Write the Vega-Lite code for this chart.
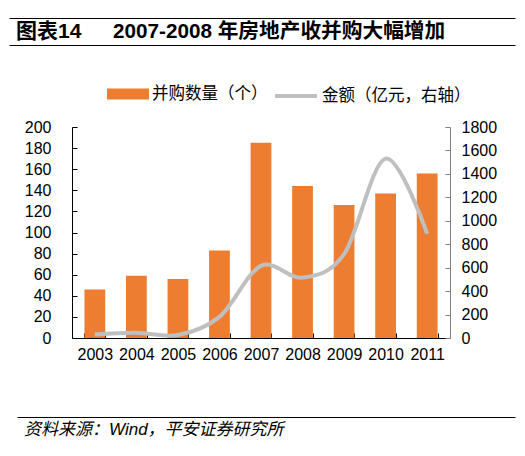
{
  "$schema": "https://vega.github.io/schema/vega-lite/v6.json",
  "padding": {"left": 16, "top": 18, "right": 0, "bottom": 0},
  "spacing": 28,
  "config": {"view": {"stroke": null}, "font": "Liberation Sans", "background": "#ffffff"},
  "resolve": {"scale": {"x": "independent", "y": "independent", "fill": "independent", "stroke": "independent"}, "legend": {"fill": "independent", "stroke": "independent"}},
  "vconcat": [
    {
      "width": 378,
      "height": 27,
      "data": {"values": [{"a": "图表14", "b": "2007-2008 年房地产收并购大幅增加"}]},
      "layer": [
        {
          "mark": {"type": "text", "align": "left", "baseline": "middle", "font": "Liberation Sans, Noto Sans CJK SC", "fontSize": 21, "fontWeight": "bold", "color": "#000000"},
          "encoding": {
            "x": {"datum": 7, "type": "quantitative", "scale": {"domain": [0, 506], "range": [-63, 443]},
                  "axis": {"orient": "top", "domain": true, "domainColor": "#000000", "domainWidth": 1.2, "ticks": false, "labels": false, "grid": false, "title": null}},
            "y": {"datum": 0.5, "type": "quantitative", "scale": {"domain": [0, 1]}, "axis": null},
            "text": {"field": "a"}
          }
        },
        {
          "mark": {"type": "text", "align": "left", "baseline": "middle", "font": "Liberation Sans, Noto Sans CJK SC", "fontSize": 20.7, "fontWeight": "bold", "color": "#000000"},
          "encoding": {
            "x": {"datum": 104, "type": "quantitative", "scale": {"domain": [0, 506], "range": [-63, 443]},
                  "axis": {"orient": "bottom", "domain": true, "domainColor": "#000000", "domainWidth": 1.2, "ticks": false, "labels": false, "grid": false, "title": null}},
            "y": {"datum": 0.5, "type": "quantitative", "scale": {"domain": [0, 1]}, "axis": null},
            "text": {"field": "b"}
          }
        }
      ],
      "resolve": {"axis": {"x": "independent"}}
    },
    {
      "width": 378,
      "height": 211,
      "data": {"values": [
        {"year": "2003", "count": 46, "amount": 30},
        {"year": "2004", "count": 59, "amount": 45},
        {"year": "2005", "count": 56, "amount": 25},
        {"year": "2006", "count": 83, "amount": 180},
        {"year": "2007", "count": 185, "amount": 615},
        {"year": "2008", "count": 144, "amount": 515},
        {"year": "2009", "count": 126, "amount": 715},
        {"year": "2010", "count": 137, "amount": 1530},
        {"year": "2011", "count": 156, "amount": 890}
      ]},
      "encoding": {
        "x": {"field": "year", "type": "ordinal", "scale": {"paddingInner": 0.5, "paddingOuter": 0.3},
              "axis": {"title": " ", "titleFontSize": 10, "titlePadding": 17, "labelAngle": 0, "labelFont": "Liberation Sans", "labelFontSize": 16, "labelColor": "#000000",
                       "labelPadding": 13, "tickBand": "extent", "tickSize": -5, "tickColor": "#000000", "domainColor": "#000000", "grid": false}}
      },
      "layer": [
        {
          "mark": {"type": "bar", "color": "#ED7D31"},
          "encoding": {
            "y": {"field": "count", "type": "quantitative", "scale": {"domain": [0, 200]},
                  "axis": {"orient": "left", "title": null, "values": [0, 20, 40, 60, 80, 100, 120, 140, 160, 180, 200], "format": "d", "grid": false,
                           "labelFont": "Liberation Sans", "labelFontSize": 16, "labelColor": "#000000", "labelPadding": 26,
                           "tickSize": -5, "tickColor": "#000000", "domainColor": "#000000"}},
            "fill": {"datum": "并购数量（个）", "scale": {"range": ["#ED7D31"]},
                     "legend": {"orient": "none", "legendX": 35, "legendY": -54, "direction": "horizontal", "title": null, "symbolType": "M-1,-0.26H1V0.26H-1Z", "symbolSize": 1764, "symbolStrokeWidth": 0,
                                "labelFont": "Noto Sans CJK SC", "labelFontSize": 16.5, "labelColor": "#000000", "labelOffset": 3}}
          }
        },
        {
          "mark": {"type": "line", "strokeWidth": 4, "interpolate": "cardinal"},
          "encoding": {
            "y": {"field": "amount", "type": "quantitative", "scale": {"domain": [0, 1800]},
                  "axis": {"orient": "right", "title": null, "values": [0, 200, 400, 600, 800, 1000, 1200, 1400, 1600, 1800], "format": "d", "grid": false,
                           "labelFont": "Liberation Sans", "labelFontSize": 16, "labelColor": "#000000", "labelPadding": 16,
                           "tickSize": -5, "tickColor": "#808080", "domainColor": "#808080"}},
            "stroke": {"datum": "金额（亿元，右轴）", "scale": {"range": ["#BFBFBF"]},
                       "legend": {"orient": "none", "legendX": 201, "legendY": -54, "direction": "horizontal", "title": null, "symbolType": "stroke", "symbolSize": 1764, "symbolStrokeWidth": 4,
                                  "labelFont": "Noto Sans CJK SC", "labelFontSize": 16.5, "labelColor": "#000000", "labelOffset": 3}}
          }
        }
      ],
      "resolve": {"scale": {"y": "independent"}}
    },
    {
      "width": 378,
      "height": 25,
      "data": {"values": [{"t": "资料来源：Wind，平安证券研究所"}]},
      "layer": [
        {
          "mark": {"type": "text", "align": "left", "baseline": "middle", "font": "Liberation Sans, Noto Sans CJK SC", "fontSize": 17, "fontStyle": "italic", "color": "#000000"},
          "encoding": {
            "x": {"datum": 7, "type": "quantitative", "scale": {"domain": [0, 498], "range": [-55, 443]},
                  "axis": {"orient": "top", "domain": true, "domainColor": "#000000", "domainWidth": 1.2, "ticks": false, "labels": false, "grid": false, "title": null}},
            "y": {"datum": 0.5, "type": "quantitative", "scale": {"domain": [0, 1]}, "axis": null},
            "text": {"field": "t"}
          }
        },
        {
          "mark": {"type": "text", "align": "left", "baseline": "middle", "font": "Liberation Sans, Noto Sans CJK SC", "fontSize": 17, "fontStyle": "italic", "opacity": 0},
          "encoding": {
            "x": {"datum": 7, "type": "quantitative", "scale": {"domain": [0, 498], "range": [-55, 443]},
                  "axis": {"orient": "bottom", "domain": true, "domainColor": "#000000", "domainWidth": 1.2, "ticks": false, "labels": false, "grid": false, "title": null}},
            "y": {"datum": 0.5, "type": "quantitative", "scale": {"domain": [0, 1]}, "axis": null},
            "text": {"field": "t"}
          }
        }
      ],
      "resolve": {"axis": {"x": "independent"}}
    }
  ]
}
